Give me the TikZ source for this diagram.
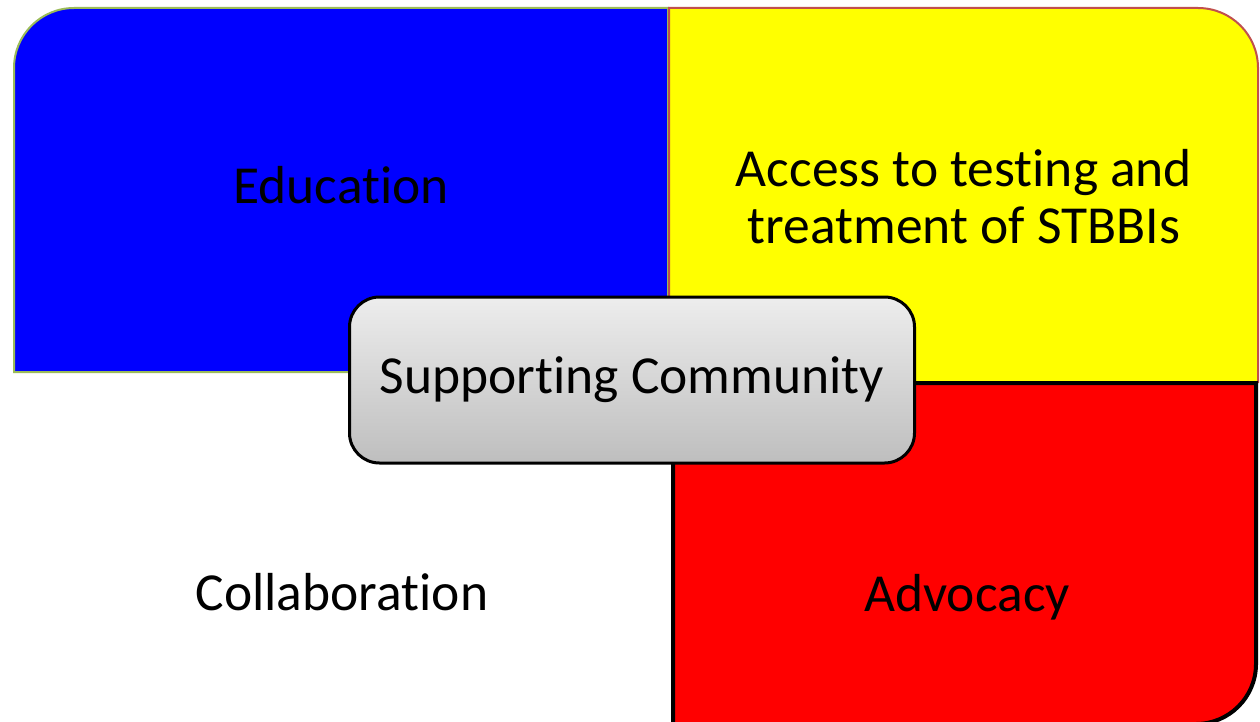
\documentclass[tikz,border=0pt]{standalone}
\usepackage{fontspec}
\setmainfont[Ligatures=NoCommon]{Carlito}
\definecolor{eduBlue}{HTML}{0000FF}
\definecolor{eduEdge}{HTML}{9BBB59}
\definecolor{accYellow}{HTML}{FFFF00}
\definecolor{accEdge}{HTML}{C0504D}
\definecolor{advRed}{HTML}{FF0000}
\definecolor{ctrTop}{HTML}{EDEDED}
\definecolor{ctrBot}{HTML}{BEBEBE}
\tikzset{
  lbl/.style={font=\fontsize{53.5}{57}\selectfont, text=black, align=center, inner sep=0pt},
  ctrbox/.style={draw=black, line width=3pt, rounded corners=30pt, top color=ctrTop, bottom color=ctrBot, minimum width=565pt, minimum height=166pt, inner sep=0pt}
}
\begin{document}
\begin{tikzpicture}[x=1pt,y=-1pt]
\useasboundingbox (0,0) rectangle (1260,722);
\clip (0,0) rectangle (1260,722);
% blue quadrant
\path[fill=eduBlue, draw=eduEdge, line width=2pt]
  (14,372) -- (14,68) arc[start angle=180, end angle=90, radius=60pt] -- (668,8) -- (668,372) -- cycle;
% yellow quadrant
\path[fill=accYellow, draw=accEdge, line width=2pt]
  (669,382) -- (669,8) -- (1198,8) arc[start angle=90, end angle=0, radius=60pt] -- (1258,382) -- cycle;
% red quadrant
\path[fill=advRed, draw=black, line width=4pt]
  (673,383) -- (1256,383) -- (1256,664) arc[start angle=0, end angle=-90, radius=60pt] -- (673,724) -- cycle;
% labels
\node[lbl] (edu) at (341,185) {Education};
\node[lbl] (acc) at (964,197) {Access to testing and\\treatment of STBBIs};
\node[lbl] (col) at (342,592) {Collaboration};
\node[lbl] (adv) at (967,597) {Advocacy};
% centre
\node[ctrbox, lbl] (ctr) at (632,380) {Supporting Community};
\end{tikzpicture}
\end{document}
